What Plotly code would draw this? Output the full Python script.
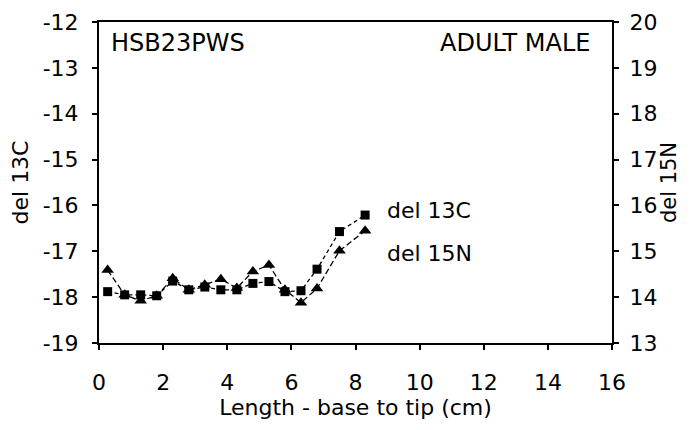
import plotly.graph_objects as go

length_cm = [0.27, 0.8, 1.3, 1.8, 2.3, 2.8, 3.3, 3.8, 4.3, 4.8, 5.3, 5.8, 6.3, 6.8, 7.5, 8.3]
del13C = [-17.88, -17.95, -17.95, -17.97, -17.65, -17.84, -17.78, -17.84, -17.84, -17.70,
          -17.66, -17.88, -17.86, -17.39, -16.57, -16.21]
del15N = [14.59, 14.05, 13.92, 14.03, 14.41, 14.16, 14.27, 14.39, 14.20, 14.56,
          14.70, 14.16, 13.88, 14.19, 15.01, 15.45]

x_ticks = [0, 2, 4, 6, 8, 10, 12, 14, 16]
left_ticks = [-12, -13, -14, -15, -16, -17, -18, -19]
right_ticks = [20, 19, 18, 17, 16, 15, 14, 13]

FONT = "DejaVu Sans, sans-serif"
FS = 22

fig = go.Figure()
fig.add_trace(go.Scatter(
    x=length_cm, y=del13C, mode="lines+markers", name="del 13C",
    line=dict(color="black", width=1.3, dash="4px,3px"),
    marker=dict(symbol="square", size=9, color="black"),
    yaxis="y", cliponaxis=False))
fig.add_trace(go.Scatter(
    x=length_cm, y=del15N, mode="lines+markers", name="del 15N",
    line=dict(color="black", width=1.3, dash="6px,3px"),
    marker=dict(symbol="triangle-up", size=11, color="black"),
    yaxis="y2", cliponaxis=False))

axis_common = dict(
    showgrid=False, zeroline=False,
    showline=True, linecolor="black", linewidth=2,
    ticks="outside", ticklen=5, tickwidth=1.5, tickcolor="black",
    tickfont=dict(size=FS), automargin=False,
)

fig.update_layout(
    width=684, height=422,
    margin=dict(l=91, r=80, t=14, b=87),
    paper_bgcolor="white", plot_bgcolor="white",
    showlegend=False,
    font=dict(family=FONT, size=FS, color="black"),
    xaxis=dict(
        range=[0, 16], tickvals=x_ticks, ticktext=[str(v) for v in x_ticks],
        mirror=True, ticklabelstandoff=14,
        title=dict(text="Length - base to tip (cm)", standoff=4, font=dict(size=FS)),
        **axis_common,
    ),
    yaxis=dict(
        range=[-19, -12], tickvals=left_ticks, ticktext=[str(v) for v in left_ticks],
        mirror=True, ticklabelstandoff=9,
        title=dict(text="del 13C", standoff=12, font=dict(size=FS)),
        **axis_common,
    ),
    yaxis2=dict(
        range=[13, 20], tickvals=right_ticks, ticktext=[str(v) for v in right_ticks],
        overlaying="y", side="right", ticklabelstandoff=6,
        title=dict(text="del 15N", standoff=2, font=dict(size=21)),
        **axis_common,
    ),
    annotations=[
        dict(text="HSB23PWS", xref="paper", yref="paper", x=0.0195, y=0.934,
             xanchor="left", yanchor="middle", showarrow=False, font=dict(size=24)),
        dict(text="ADULT MALE", xref="paper", yref="paper", x=0.961, y=0.934,
             xanchor="right", yanchor="middle", showarrow=False, font=dict(size=24)),
        dict(text="del 13C", xref="x", yref="y", x=8.92, y=-16.10,
             xanchor="left", yanchor="middle", showarrow=False, font=dict(size=FS)),
        dict(text="del 15N", xref="x", yref="y", x=8.92, y=-17.04,
             xanchor="left", yanchor="middle", showarrow=False, font=dict(size=FS)),
    ],
)

fig.write_html("out.html")
